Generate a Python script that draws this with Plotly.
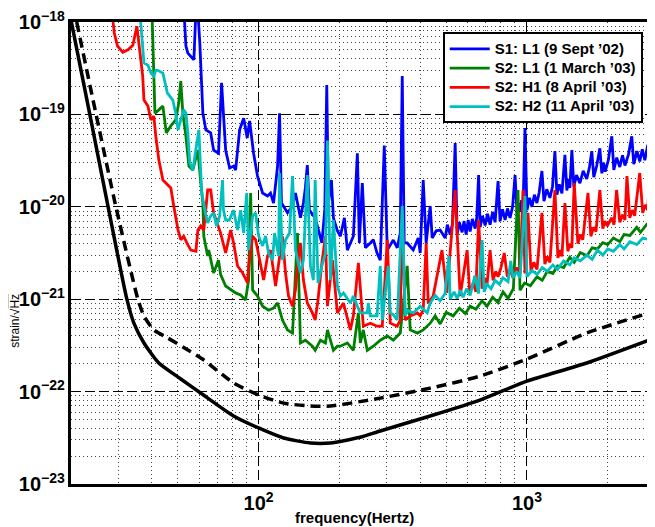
import plotly.graph_objects as go

# ---- data (frequency in Hz, strain in 1/sqrt(Hz)) ----
solid_f = [20, 23.5, 27.5, 32.3, 34.3, 37.4, 42.5, 51.3, 60.8, 80.7, 100, 124, 156, 185, 239, 284, 436, 668, 1000, 1670, 2990]
solid_h = [1.05e-18, 1e-19, 1e-20, 1e-21, 5.5e-22, 3.36e-22, 2.04e-22, 1.37e-22, 9.66e-23, 5.45e-23, 4.04e-23,
           3.15e-23, 2.78e-23, 2.78e-23, 3.2e-23, 3.75e-23, 5.45e-23, 8.1e-23, 1.30e-22, 2.04e-22, 3.8e-22]

dash_f = [21.0, 24.8, 29.4, 35.5, 37.4, 40.7, 45.9, 54.5, 62.5, 80.7, 100, 124, 156, 185, 284, 436, 668, 1000, 1670, 2990]
dash_h = [1e-18, 1e-19, 1e-20, 1e-21, 6.58e-22, 4.65e-22, 3.8e-22, 2.82e-22, 2.2e-22, 1.24e-22, 9.2e-23,
          7.5e-23, 6.98e-23, 6.98e-23, 8.5e-23, 1.09e-22, 1.47e-22, 2.25e-22, 4.3e-22, 7.4e-22]

blue = [(52.6, 1.5e-18), (53.6, 5.5e-19), (54.5, 4.6e-19), (57.4, 3.9e-19), (58.4, 1.3e-18), (59.4, 1.3e-18),
        (60.4, 5.9e-19), (62.0, 1.03e-19), (63.6, 6.8e-20), (66.3, 6.3e-20), (68.0, 4.1e-20), (70.9, 3.8e-20),
        (72.8, 2.2e-19), (75.4, 4.1e-20), (78.0, 2.63e-20), (80.7, 2.76e-20), (82.1, 2.5e-20), (85.0, 6.8e-20),
        (88.0, 9.1e-20), (90.7, 5.55e-20), (92.6, 8.5e-20), (95.8, 3.8e-20), (99.1, 2.15e-20), (103.5, 1.41e-20),
        (108.0, 1.31e-20), (110.8, 1.41e-20), (113.7, 1.1e-20), (117.7, 2.76e-20), (119.7, 1.03e-19),
        (121.7, 1.1e-20), (128.2, 8.6e-21), (133.8, 1.02e-20), (137.2, 1.41e-20), (143.2, 7.6e-21),
        (146.9, 1.1e-20), (149.4, 1.6e-20), (151.9, 2.83e-20), (154.6, 9.2e-21), (162.5, 7.6e-21),
        (172.1, 4.06e-21), (176.5, 9.2e-21), (179.5, 2.08e-19), (182.0, 1.1e-20), (186.8, 1.95e-20),
        (190.0, 7.6e-21), (196.6, 5.5e-21), (201.7, 4.8e-21), (208.8, 7.6e-21), (214.2, 3.4e-21),
        (225.5, 4.8e-21), (233.4, 3.8e-20), (237.4, 4.06e-21), (243.5, 1.81e-20), (250.0, 3.6e-21),
        (260.8, 4.06e-21), (267.6, 4.4e-21), (276.3, 3.16e-21), (284.1, 2.65e-21), (294.0, 4.6e-20),
        (301.7, 3.41e-21), (317.6, 4.37e-21), (328.6, 3.6e-21), (337.2, 5.2e-21), (343.0, 2.6e-19),
        (348.9, 4.06e-21), (357.9, 4.06e-21), (376.9, 3.41e-21), (393.4, 4.6e-21), (400.2, 3.16e-21),
        (410.6, 1.95e-20), (421.2, 4.06e-21), (436.0, 1.02e-20), (443.5, 4.6e-21), (459.1, 5.5e-21),
        (474.9, 5.6e-21), (495.8, 4.6e-21), (505, 6.4e-21), (517.4, 5.0e-21), (528, 6.6e-21), (540.1, 4.9e-20),
        (549.4, 5.0e-21), (560, 6.8e-21), (573.4, 5.3e-21), (583, 7.0e-21), (593.4, 5.0e-21), (604, 7.2e-21),
        (614.0, 5.4e-21), (626, 7.4e-21), (641.1, 5.8e-21), (650, 7.6e-21), (660.5, 2.2e-20), (668.9, 6.0e-21),
        (683, 8.0e-21), (698.4, 6.3e-21), (713, 8.4e-21), (728.7, 6.4e-21), (745, 8.8e-21), (760.8, 6.8e-21),
        (780.3, 1.9e-20), (793.9, 7.0e-21), (811, 9.4e-21), (829.0, 7.2e-21), (846, 9.6e-21), (864.8, 7.6e-21),
        (884, 1.0e-20), (902.9, 2.2e-20), (919.2, 8.2e-21), (930, 1.1e-20), (942.1, 8.8e-21), (955, 1.18e-20),
        (966.6, 9.0e-21), (983.2, 7.1e-20), (1000, 9.2e-21), (1022, 1.25e-20), (1044, 1.0e-20), (1066, 1.35e-20),
        (1089, 1.1e-20), (1110, 1.42e-20), (1137, 2.44e-20), (1157, 1.15e-20), (1185, 1.55e-20), (1218, 1.25e-20),
        (1245, 1.65e-20), (1271, 4.0e-20), (1293, 1.35e-20), (1320, 1.75e-20), (1350, 1.4e-20), (1385, 3.64e-20),
        (1408, 1.5e-20), (1425, 2.0e-20), (1445, 1.6e-20), (1470, 4.1e-20), (1495, 1.65e-20), (1530, 2.2e-20),
        (1575, 1.8e-20), (1620, 2.45e-20), (1670, 2.0e-20), (1710, 2.7e-20), (1744, 4.0e-20), (1774, 2.1e-20),
        (1820, 2.8e-20), (1869, 4.3e-20), (1901, 2.3e-20), (1930, 3.0e-20), (1956, 2.4e-20), (2010, 3.2e-20),
        (2071, 5.8e-20), (2107, 2.5e-20), (2160, 3.4e-20), (2218, 2.7e-20), (2270, 3.6e-20), (2318, 2.8e-20),
        (2390, 3.7e-20), (2458, 5.8e-20), (2500, 2.9e-20), (2570, 4.0e-20), (2632, 3.1e-20), (2690, 4.2e-20),
        (2749, 3.2e-20), (2820, 4.7e-20), (2867, 3.1e-20), (2930, 4.3e-20), (2990, 3.5e-20)]

green = [(40.0, 1.5e-18), (40.7, 3.03e-19), (41.1, 1.03e-19), (42.5, 1.12e-19), (44.0, 1.23e-19), (45.3, 6.3e-20),
         (47.1, 7.5e-20), (49.1, 8.7e-20), (50.4, 1.33e-19), (51.3, 2.3e-19), (52.2, 1.03e-19), (53.6, 5.8e-20),
         (55.0, 2.76e-20), (56.9, 2.5e-20), (59.4, 4.1e-20), (60.9, 1.81e-20), (62.0, 1.1e-20), (62.5, 4.8e-21),
         (64.6, 2.94e-21), (65.2, 3.4e-21), (68.0, 1.92e-21), (70.9, 2.65e-21), (72.2, 1.85e-21),
         (75.4, 1.39e-21), (78.7, 1.26e-21), (82.1, 1.17e-21), (85.7, 1.11e-21), (89.4, 9.8e-22),
         (91.8, 1.61e-21), (93.4, 1.41e-20), (95.0, 1.26e-21), (99.1, 1.08e-21), (103.5, 8.4e-22),
         (108.9, 7.6e-22), (113.7, 8.0e-22), (117.7, 9.1e-22), (122.7, 5.95e-22), (128.2, 4.65e-22),
         (133.8, 4.3e-22), (139.6, 5.2e-21), (143.2, 3.36e-22), (149.4, 3.6e-22), (158.7, 3.1e-22),
         (162.5, 2.8e-22), (170.0, 3.6e-22), (177.5, 3.36e-22), (180.5, 4.65e-22), (190.0, 2.8e-22),
         (196.6, 3.1e-22), (201.7, 3.1e-22), (214.2, 3.36e-22), (225.5, 2.8e-22), (235.4, 7.1e-22),
         (239.4, 3.36e-22), (245.6, 4.65e-22), (254.1, 2.8e-22), (267.6, 3.1e-22), (284.1, 3.6e-22),
         (301.7, 4.0e-22), (317.6, 3.6e-22), (337.2, 4.3e-22), (357.9, 2.3e-21), (367.3, 4.65e-22),
         (391.0, 4.3e-22), (410.6, 4.65e-22), (436.0, 5.5e-22), (455, 6.6e-22), (474.9, 5.4e-22), (500, 7.2e-22),
         (531, 6.6e-22), (560, 8.0e-22), (590, 7.0e-22), (614, 8.4e-22), (645, 7.8e-22), (680, 9.6e-22),
         (710, 8.4e-22), (745, 1.05e-21), (780, 9.2e-22), (814.5, 1.2e-21), (850, 1.02e-21), (890, 1.3e-21),
         (926, 1.52e-20), (942.1, 1.25e-21), (980, 1.5e-21), (1030, 1.4e-21), (1090, 1.75e-21), (1140, 1.6e-21),
         (1190, 2.0e-21), (1249, 1.9e-21), (1300, 2.3e-21), (1370, 2.2e-21), (1445, 2.85e-21), (1500, 2.5e-21),
         (1580, 3.2e-21), (1673, 2.95e-21), (1750, 3.6e-21), (1830, 3.5e-21), (1917, 4.1e-21), (2000, 3.9e-21),
         (2100, 4.6e-21), (2218, 4.2e-21), (2300, 5.0e-21), (2420, 4.9e-21), (2566, 6.0e-21), (2650, 5.3e-21),
         (2800, 6.5e-21), (2990, 6.5e-21)]

red = [(28.4, 1.3e-18), (29.0, 7.6e-19), (29.8, 5.5e-19), (31.2, 4.7e-19), (32.6, 5.0e-19), (34.0, 5.6e-19),
       (35.2, 9.0e-19), (35.8, 5.9e-19), (37.0, 2.6e-19), (37.4, 1.43e-19), (38.7, 1.23e-19), (39.7, 8.7e-20),
       (40.7, 9.6e-20), (41.4, 5.8e-20), (42.5, 3.2e-20), (44.0, 1.95e-20), (45.3, 1.81e-20), (47.1, 1.6e-20),
       (48.3, 1.02e-20), (50.1, 5.6e-21), (51.3, 4.4e-21), (52.6, 4.8e-21), (54.5, 3.87e-21), (55.9, 3.4e-21),
       (58.4, 3.3e-21), (59.4, 5.6e-21), (60.9, 6.2e-21), (62.5, 5.6e-21), (64.6, 1.52e-20), (66.3, 1.52e-20),
       (68.0, 8.6e-21), (70.9, 6.2e-21), (72.2, 5.2e-21), (75.4, 3.16e-21), (78.7, 5.6e-21), (80.7, 4.06e-21),
       (83.5, 2.29e-21), (87.2, 1.92e-21), (91.0, 1.5e-21), (91.8, 2.29e-21), (95.0, 4.8e-21), (97.5, 4.4e-21),
       (101.7, 2.29e-21), (104.4, 1.61e-21), (108.0, 2.94e-21), (110.8, 3.4e-21), (115.7, 1.39e-21),
       (120.7, 3.16e-21), (122.7, 4.8e-21), (126.0, 1.92e-21), (129.3, 1.08e-21), (133.8, 8.4e-22),
       (137.2, 1.26e-21), (140.8, 2.94e-21), (143.2, 4.06e-21), (146.9, 1.61e-21), (151.9, 9.1e-22),
       (158.7, 7.1e-22), (162.5, 5.95e-22), (166.5, 9.8e-22), (172.1, 2.47e-21), (177.5, 4.8e-21),
       (180.5, 8.4e-22), (188.4, 2.65e-21), (196.6, 7.1e-22), (207.1, 9.1e-22), (219.8, 4.65e-22),
       (225.5, 6.6e-22), (235.4, 2.47e-21), (245.6, 5.1e-22), (260.8, 5.5e-22), (276.3, 5.1e-22),
       (289.0, 5.1e-22), (301.7, 4.4e-21), (309.5, 5.5e-22), (328.6, 5.1e-22), (337.2, 5.95e-22),
       (343.0, 9.2e-21), (351.8, 5.95e-22), (367.3, 6.6e-22), (391.0, 7.1e-22), (400.2, 6.6e-22),
       (410.6, 7.6e-22), (421.2, 4.06e-21), (428.6, 9.1e-22), (447.3, 1.08e-21), (482.3, 3.4e-21),
       (503.0, 1.17e-21), (540.0, 1.52e-20), (563.7, 1.08e-21), (598.5, 3.4e-21), (612, 1.15e-21),
       (630.4, 1.5e-21), (645, 1.2e-21), (660.5, 7.2e-21), (680.5, 1.3e-21), (695, 1.7e-21), (710, 1.45e-21),
       (728.7, 3.4e-21), (747.7, 1.6e-21), (765, 2.0e-21), (780.3, 1.75e-21), (800, 2.2e-21), (822.9, 3.16e-21),
       (845, 1.75e-21), (864.8, 2.1e-21), (887.5, 1.7e-21), (915, 2.2e-21), (942.1, 1.85e-21), (966.6, 1.52e-20),
       (983, 1.9e-21), (1009, 8.6e-21), (1035, 2.0e-21), (1060, 2.5e-21), (1090, 2.1e-21), (1137, 8.6e-21),
       (1166, 2.4e-21), (1190, 2.9e-21), (1218, 2.5e-21), (1271, 1.52e-20), (1304, 2.8e-21), (1330, 3.4e-21),
       (1350, 2.9e-21), (1385, 1.1e-20), (1420, 3.3e-21), (1445, 4.0e-21), (1470, 3.6e-21), (1500, 1.81e-20),
       (1548, 4.0e-21), (1580, 5.0e-21), (1614, 4.4e-21), (1688, 1.41e-20), (1730, 4.8e-21), (1770, 6.0e-21),
       (1808, 5.4e-21), (1869, 1.52e-20), (1917, 5.8e-21), (1950, 7.0e-21), (1991, 6.2e-21), (2071, 7.6e-21),
       (2110, 6.4e-21), (2158, 1.52e-20), (2218, 6.8e-21), (2270, 8.2e-21), (2318, 7.2e-21), (2358, 2.15e-20),
       (2416, 7.6e-21), (2470, 9.2e-21), (2520, 8.0e-21), (2632, 2.32e-20), (2700, 8.6e-21), (2760, 1.05e-20),
       (2820, 9.2e-21), (2867, 2.76e-20), (2917, 9.4e-21), (2990, 1.15e-20)]

cyan = [(36.1, 1.3e-18), (37.0, 5.5e-19), (37.4, 3.6e-19), (38.7, 3.4e-19), (39.7, 2.8e-19), (40.7, 2.6e-19),
        (41.4, 3.0e-19), (42.1, 3.0e-19), (44.0, 2.8e-19), (45.7, 1.71e-19), (47.9, 1.43e-19), (49.1, 1.03e-19),
        (50.1, 6.8e-20), (51.3, 8.7e-20), (52.6, 1.12e-19), (53.6, 1.03e-19), (54.5, 6.3e-20), (55.4, 3.0e-20),
        (56.9, 2.5e-20), (57.9, 3.55e-20), (59.9, 6.8e-20), (60.9, 2.3e-20), (61.4, 1.41e-20), (63.6, 8.2e-21),
        (64.6, 6.7e-21), (66.3, 7.95e-21), (68.0, 8.6e-21), (69.7, 6.2e-21), (71.6, 7.95e-21), (73.4, 1.95e-20),
        (74.0, 9.2e-21), (75.4, 7.2e-21), (77.8, 7.2e-21), (80.7, 9.2e-21), (83.5, 5.6e-21), (85.7, 9.2e-21),
        (88.0, 5.2e-21), (90.3, 1.41e-20), (91.8, 3.4e-21), (95.0, 7.95e-21), (97.5, 8.6e-21), (100.0, 4.83e-21),
        (103.5, 3.77e-21), (106.2, 4.83e-21), (108.9, 3.16e-21), (112.7, 2.65e-21), (114.7, 5.2e-21),
        (118.7, 2.94e-21), (119.7, 2.32e-20), (122.7, 2.65e-21), (126.0, 4.37e-21), (130.4, 5.2e-21),
        (133.8, 2.15e-20), (137.2, 3.41e-21), (143.2, 1.92e-21), (146.9, 2.65e-21), (151.9, 2.2e-20),
        (156.0, 2.29e-21), (160.0, 1.61e-21), (162.5, 1.95e-20), (166.5, 1.5e-21), (172.1, 2.29e-21),
        (177.5, 3.16e-21), (180.5, 5.2e-20), (185.2, 1.61e-21), (190.0, 7.2e-21), (196.6, 1.39e-21),
        (201.7, 1.08e-21), (207.1, 1.17e-21), (219.8, 9.1e-22), (225.5, 1.08e-21), (233.4, 8.4e-22),
        (239.4, 7.1e-22), (254.1, 7.1e-22), (256.3, 9.1e-22), (260.8, 6.6e-22), (276.3, 6.6e-22),
        (284.1, 2.29e-21), (289.0, 5.95e-22), (304.3, 2.29e-21), (309.5, 7.1e-22), (317.6, 6.8e-22),
        (328.6, 5.95e-22), (343.0, 1.02e-20), (351.8, 6.6e-22), (357.9, 7.6e-22), (376.9, 7.1e-22),
        (400.2, 8.4e-22), (424.8, 7.1e-22), (436.0, 9.1e-22), (455, 1.1e-21), (474.9, 9.6e-22), (495, 1.15e-21),
        (512.0, 2.94e-21), (517.4, 1.0e-21), (535, 1.2e-21), (549.4, 1.02e-21), (565, 1.25e-21), (578.4, 1.05e-21),
        (596, 1.3e-21), (614, 1.1e-21), (640, 1.8e-21), (660, 1.15e-21), (680.5, 4.37e-21), (692.5, 1.2e-21),
        (710, 1.45e-21), (735, 1.3e-21), (760.8, 1.6e-21), (790, 1.45e-21), (814.5, 1.7e-21), (850, 1.55e-21),
        (870, 2.6e-21), (887.5, 1.7e-21), (915, 2.0e-21), (942.1, 1.7e-21), (983.2, 1.31e-20), (1000, 1.75e-21),
        (1045, 2.05e-21), (1090, 1.85e-21), (1140, 2.2e-21), (1190, 2.0e-21), (1249, 2.35e-21), (1300, 2.1e-21),
        (1370, 2.6e-21), (1445, 2.35e-21), (1500, 2.8e-21), (1580, 2.6e-21), (1673, 3.0e-21), (1750, 2.7e-21),
        (1830, 3.4e-21), (1917, 3.0e-21), (2000, 3.5e-21), (2100, 3.3e-21), (2218, 3.9e-21), (2300, 3.5e-21),
        (2420, 4.2e-21), (2566, 3.9e-21), (2700, 4.6e-21), (2850, 4.4e-21), (2990, 5.0e-21)]

series_names = ["S1: L1 (9 Sept \u201902)", "S2: L1 (1 March \u201903)",
                "S2: H1 (8 April \u201903)", "S2: H2 (11 April \u201903)"]
series_data = [blue, green, red, cyan]
series_colors = ["#0000FF", "#008000", "#FF0000", "#00BFBF"]

FONT = "Liberation Sans, Arial, sans-serif"

fig = go.Figure()
for name, pts, col in zip(series_names, series_data, series_colors):
    fig.add_trace(go.Scatter(x=[p[0] for p in pts], y=[p[1] for p in pts], mode="lines",
                             name="<span style='font-size:15px'>" + name + "</span>",
                             line=dict(color=col, width=2.8)))

fig.add_trace(go.Scatter(x=solid_f, y=solid_h, mode="lines", showlegend=False,
                         line=dict(color="black", width=3.5, shape="spline", smoothing=0.6)))
fig.add_trace(go.Scatter(x=dash_f, y=dash_h, mode="lines", showlegend=False,
                         line=dict(color="black", width=3.5, dash="10px,6px", shape="spline", smoothing=0.6)))

axis_common = dict(
    type="log", showline=True, linecolor="black", linewidth=3, mirror=True, automargin=False,
    showgrid=True, gridcolor="black", gridwidth=1, griddash="10px,4px",
    ticks="", exponentformat="power", dtick=1, zeroline=False, ticklabeloverflow="allow",
    tickfont=dict(family=FONT, size=16, color="black", weight="bold"),
    minor=dict(dtick="D1", showgrid=True, gridcolor="#444", gridwidth=1, griddash="1px,3px", ticks=""),
)

fig.update_xaxes(range=[1.30103, 3.4771], **axis_common)
fig.update_yaxes(range=[-23, -18], **axis_common)

# the page body adds a margin, so the figure is sized to end at the window edge
fig.update_layout(
    width=647, height=519,
    margin=dict(l=63, r=0, t=14, b=43, autoexpand=False),
    paper_bgcolor="white", plot_bgcolor="white",
    font=dict(family=FONT, color="black"),
    legend=dict(x=0.979, y=0.978, xanchor="right", yanchor="top",
                bgcolor="white", bordercolor="black", borderwidth=2, itemwidth=40,
                font=dict(family=FONT, size=12.5, color="black", weight="bold"),
                tracegroupgap=0),
    annotations=[
        dict(text="frequency(Hertz)", xref="paper", yref="paper", x=0.486, y=-0.072,
             xanchor="center", yanchor="middle", showarrow=False,
             font=dict(family=FONT, size=15, color="black", weight="bold")),
        dict(text="strain/\u221a<span style='text-decoration:overline'>Hz</span>", xref="paper", yref="paper",
             x=-0.096, y=0.353, xanchor="center", yanchor="middle", textangle=-90, showarrow=False,
             font=dict(family=FONT, size=12, color="black")),
    ],
)

fig.write_html("out.html")
